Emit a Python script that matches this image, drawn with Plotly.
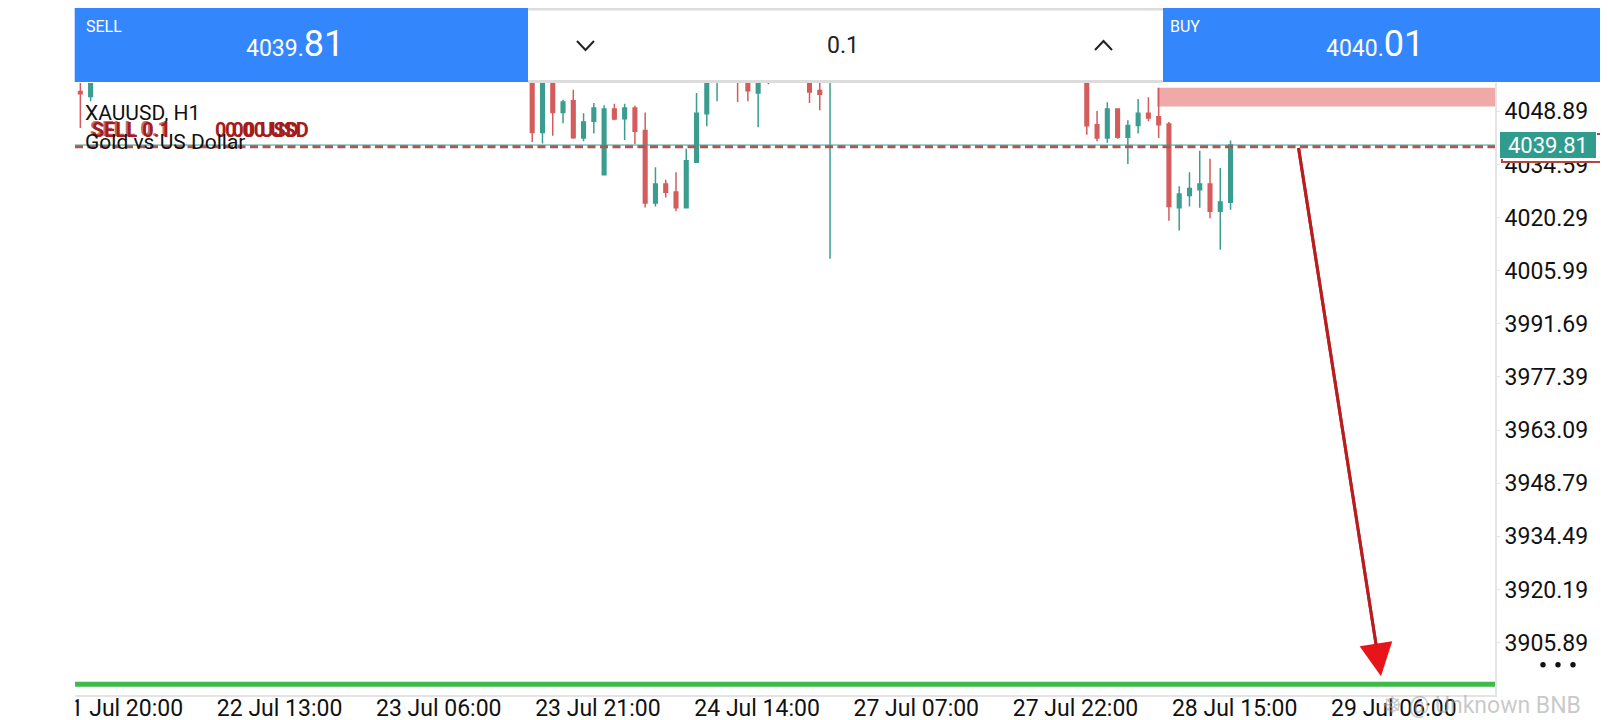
import plotly.graph_objects as go

# hourly XAUUSD candles that are visible inside the window (bar number on x)
bar_index = [0, 1,
             44, 45, 46, 47, 48, 49, 50, 51, 52, 53, 54, 55, 56, 57, 58, 59,
             60, 61, 62, 64, 65, 66, 67, 71, 72, 73,
             98, 99, 100, 101, 102, 103, 104, 105, 106, 107, 108, 109, 110,
             111, 112]
open_ = [4054.2, 4052.9,
         4060.2, 4043.2, 4058.7, 4048.6, 4051.7, 4041.7, 4046.2, 4031.8,
         4049.5, 4046.9, 4049.8, 4043.7, 4024.2, 4029.3, 4027.2, 4022.9,
         4035.2, 4048.2, 4060.0, 4064.0, 4060.8, 4053.8, 4063.0, 4060.5,
         4054.5, 4058.0,
         4059.0, 4045.3, 4041.7, 4049.5, 4041.9, 4045.1, 4048.4, 4047.4,
         4045.5, 4022.9, 4026.2, 4027.8, 4029.3, 4022.0, 4024.4]
high = [4058.5, 4059.8,
        4062.0, 4061.5, 4060.4, 4052.0, 4054.7, 4048.4, 4051.1, 4050.5,
        4050.9, 4050.9, 4050.4, 4048.6, 4033.8, 4030.5, 4032.5, 4038.8,
        4053.8, 4061.0, 4065.2, 4066.0, 4062.5, 4061.7, 4065.0, 4063.0,
        4058.0, 4066.0,
        4061.0, 4049.0, 4051.3, 4049.7, 4046.5, 4052.2, 4052.7, 4055.2,
        4046.0, 4028.7, 4032.5, 4038.3, 4036.1, 4033.6, 4041.0]
low = [4044.4, 4051.6,
       4040.6, 4040.2, 4042.3, 4045.7, 4041.5, 4040.8, 4042.9, 4031.8,
       4046.5, 4041.2, 4040.1, 4023.0, 4023.3, 4025.7, 4022.0, 4022.9,
       4035.0, 4044.9, 4051.6, 4051.4, 4051.6, 4044.6, 4056.2, 4051.1,
       4049.2, 4009.2,
       4042.6, 4040.8, 4040.4, 4041.5, 4034.7, 4042.9, 4046.2, 4041.7,
       4019.4, 4016.8, 4023.3, 4022.9, 4020.1, 4011.6, 4022.4]
close = [4053.6, 4057.6,
         4043.2, 4058.9, 4048.6, 4051.4, 4041.8, 4046.0, 4049.8, 4049.5,
         4046.8, 4049.8, 4043.5, 4024.2, 4029.3, 4027.1, 4022.9, 4035.6,
         4048.4, 4058.3, 4063.1, 4059.5, 4054.4, 4059.9, 4061.0, 4054.1,
         4053.5, 4064.0,
         4045.0, 4041.7, 4049.5, 4041.9, 4045.1, 4048.4, 4047.1, 4045.3,
         4023.3, 4026.6, 4028.1, 4029.3, 4022.0, 4024.5, 4039.81]

price_ticks = [3905.89, 3920.19, 3934.49, 3948.79, 3963.09, 3977.39,
               3991.69, 4005.99, 4020.29, 4034.59, 4048.89]
time_ticks = [3.9, 19.4, 34.9, 50.4, 65.9, 81.4, 96.9, 112.4, 127.9]
time_labels = ["21 Jul 20:00", "22 Jul 13:00", "23 Jul 06:00", "23 Jul 21:00",
               "24 Jul 14:00", "27 Jul 07:00", "27 Jul 22:00", "28 Jul 15:00",
               "29 Jul 06:00"]

bid = 4039.81
ask = 4040.01
entry = 4039.35
lot = "0.1"
tp_level = 3894.65
zone_low, zone_high, zone_start = 4050.2, 4055.2, 104.85
arrow_from = (118.6, 4039.4)
arrow_to = (126.65, 3896.8)

X_RANGE = [-0.52, 137.75]
Y_RANGE = [3891.78, 4056.51]

W, H = 1608, 720
L, R, T, B = 67, 1487, 75, 687


def px(x):
    return (x - L) / (R - L)


def py(y):
    return (B - y) / (B - T)


def rect(x0, y0, x1, y1, color, **kw):
    return dict(type="rect", xref="paper", yref="paper", layer="above",
                x0=px(x0), x1=px(x1), y0=py(y1), y1=py(y0),
                fillcolor=color, line=dict(width=0), **kw)


def label(text, x, y, size, color="#111111", xanchor="left", bold=False, **kw):
    if bold:
        text = "<b>" + text + "</b>"
    return dict(text=text, xref="paper", yref="paper", x=px(x), y=py(y),
                xanchor=xanchor, yanchor="middle", showarrow=False,
                font=dict(family="Roboto", size=size, color=color), **kw)


fig = go.Figure()
fig.add_trace(go.Candlestick(
    x=bar_index, open=open_, high=high, low=low, close=close,
    increasing=dict(line=dict(color="#3a9d90", width=1.5), fillcolor="#3a9d90"),
    decreasing=dict(line=dict(color="#d55c5c", width=1.5), fillcolor="#d55c5c"),
    hoverinfo="skip", showlegend=False,
))

blue = "#3486fc"
shapes = [
    # pink zone near the top right
    dict(type="rect", xref="x", yref="y", x0=zone_start, x1=X_RANGE[1],
         y0=zone_low, y1=zone_high, fillcolor="#f0a9a9", line=dict(width=0),
         layer="below"),
    dict(type="line", xref="paper", yref="y", x0=0, x1=1, y0=bid, y1=bid,
         line=dict(color="#3a9d90", width=1)),
    dict(type="line", xref="paper", yref="y", x0=0, x1=1, y0=entry, y1=entry,
         line=dict(color="#ad5555", width=3, dash="8px,4.5px")),
    dict(type="line", xref="paper", yref="y", x0=0, x1=1, y0=tp_level, y1=tp_level,
         line=dict(color="#3fb94b", width=5)),
    # header
    rect(66.7, 0, 520, 74, blue),
    rect(1155, 0, 1608, 74, blue),
    rect(520, 0, 1155, 2.5, "#dcdcdc"),
    rect(520, 72, 1155, 75, "#dcdcdc"),
    # hides the part of the first time label left of the chart
    rect(0, 688, 67.5, 720, "#ffffff"),
    dict(type="path", xref="paper", yref="paper", layer="above",
         path=f"M {px(569)},{py(33)} L {px(577.5)},{py(42)} L {px(586)},{py(33)}",
         line=dict(color="#222222", width=2)),
    dict(type="path", xref="paper", yref="paper", layer="above",
         path=f"M {px(1087)},{py(42)} L {px(1095.5)},{py(33)} L {px(1104)},{py(42)}",
         line=dict(color="#222222", width=2)),
]
for cx in (1535, 1550, 1565):
    shapes.append(dict(type="circle", xref="paper", yref="paper", layer="above",
                       x0=px(cx - 2.7), x1=px(cx + 2.7), y0=py(659.4), y1=py(654),
                       fillcolor="#111111", line=dict(width=0)))

# arrow: bright red head, darker shaft on top of it
head_base = (arrow_from[0] + 0.94 * (arrow_to[0] - arrow_from[0]),
             arrow_from[1] + 0.94 * (arrow_to[1] - arrow_from[1]))
annotations = [
    dict(x=arrow_to[0], y=arrow_to[1], ax=arrow_from[0], ay=arrow_from[1],
         xref="x", yref="y", axref="x", ayref="y", text="", showarrow=True,
         arrowhead=2, arrowsize=2.2, arrowwidth=3, arrowcolor="#e8141a"),
    dict(x=head_base[0], y=head_base[1], ax=arrow_from[0], ay=arrow_from[1],
         xref="x", yref="y", axref="x", ayref="y", text="", showarrow=True,
         arrowhead=0, arrowwidth=3, arrowcolor="#b51f1f"),
    label("SELL", 75.5, 18.4, 16, "#ffffff"),
    label("BUY", 1160, 18.4, 16, "#ffffff"),
    label(f"{bid:.2f}"[:-2] + f"<span style='font-size:36px'>{f'{bid:.2f}'[-2:]}</span>",
          338, 36, 23, "#ffffff", xanchor="right"),
    label(f"{ask:.2f}"[:-2] + f"<span style='font-size:36px'>{f'{ask:.2f}'[-2:]}</span>",
          1418, 36, 23, "#ffffff", xanchor="right"),
    label(lot, 835, 37.5, 23, "#222222", xanchor="center"),
    label("SELL 0.1", 79.5, 121.5, 20, "#c46a6a", bold=True),
    label("SELL 0.1", 81.5, 122.5, 20, "#a51c1c", bold=True),
    label("0.00 USD", 205, 122.5, 20, "#a51c1c", bold=True),
    label("0.00 USD", 215, 122.5, 20, "#a51c1c", bold=True),
    label("XAUUSD, H1", 75, 105, 21),
    label("Gold vs US Dollar", 75, 133.5, 21),
    label("☸ @ Unknown BNB", 1372, 697, 23, "rgba(165,165,165,0.6)"),
    # current price tags on the price scale
    dict(text=f"{bid:.2f}", xref="paper", yref="y", x=1, y=bid, xanchor="left",
         yanchor="middle", xshift=6, yshift=-2.5, width=95, height=24,
         showarrow=False, bgcolor="#ffffff", bordercolor="#b5473f", borderwidth=2,
         font=dict(family="Roboto", size=22, color="rgba(0,0,0,0)")),
    dict(text=f"{bid:.2f}", xref="paper", yref="y", x=1, y=bid, xanchor="left",
         yanchor="middle", xshift=3.5, width=94, height=24, showarrow=False,
         bgcolor="#2f9c8e", bordercolor="#ffffff", borderwidth=1,
         font=dict(family="Roboto", size=22, color="#ffffff")),
]

fig.update_layout(
    width=W, height=H,
    margin=dict(l=L, r=W - R, t=T, b=H - B, autoexpand=False),
    paper_bgcolor="#ffffff", plot_bgcolor="#ffffff",
    boxgap=0.5,
    shapes=shapes, annotations=annotations,
    font=dict(family="Roboto", color="#111111"),
    xaxis=dict(range=X_RANGE, tickvals=time_ticks, ticktext=time_labels,
               showgrid=False, zeroline=False, showline=True,
               linecolor="#e4e4e4", linewidth=2, ticks="",
               ticklabelstandoff=-9, tickfont=dict(size=23, color="#111111"),
               rangeslider=dict(visible=False), fixedrange=True),
    yaxis=dict(range=Y_RANGE, side="right", tickvals=price_ticks,
               ticktext=[f"{v:.2f}" for v in price_ticks],
               showgrid=False, zeroline=False, showline=True,
               linecolor="#e4e4e4", linewidth=2, ticks="outside", ticklen=3,
               tickcolor="#e4e4e4", tickfont=dict(size=23, color="#111111"),
               fixedrange=True),
)

fig.write_html("out.html")
